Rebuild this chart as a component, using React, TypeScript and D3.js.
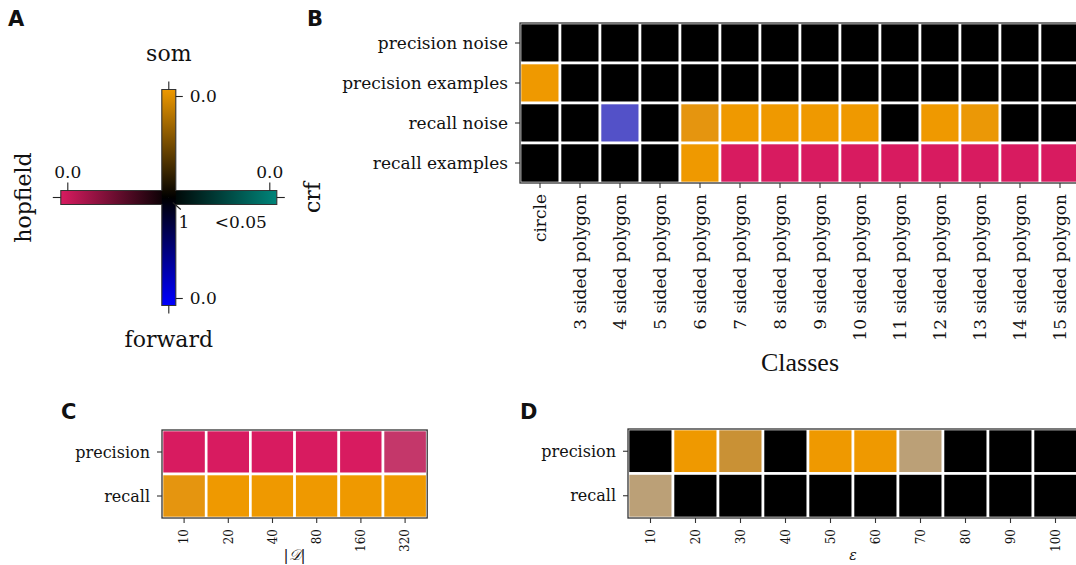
import React from "react";
import * as d3 from "d3";

const width = 1076;
const height = 565;
const serif = "DejaVu Serif";

// panel B
const classes = [
  "circle",
  "3 sided polygon",
  "4 sided polygon",
  "5 sided polygon",
  "6 sided polygon",
  "7 sided polygon",
  "8 sided polygon",
  "9 sided polygon",
  "10 sided polygon",
  "11 sided polygon",
  "12 sided polygon",
  "13 sided polygon",
  "14 sided polygon",
  "15 sided polygon",
];
const bRows = ["precision noise", "precision examples", "recall noise", "recall examples"];
const bCells = [
  "KKKKKKKKKKKKKK",
  "OKKKKKKKKKKKKK",
  "KKBKoOOOOKOqKK",
  "KKKKOPPPPPPPPP",
];

// panel C
const sizes = ["10", "20", "40", "80", "160", "320"];
const cRows = ["precision", "recall"];
const cCells = ["PPPPPp", "oOOOOO"];

// panel D
const epsilons = ["10", "20", "30", "40", "50", "60", "70", "80", "90", "100"];
const dRows = ["precision", "recall"];
const dCells = ["KOtKOOTKKK", "TKKKKKKKKK"];

// cell colours (mix of the four model colours)
const palette: Record<string, string> = {
  K: "#000000",
  O: "#ef9900",
  o: "#e5950f",
  q: "#eb9806",
  P: "#d81b60",
  p: "#c4376a",
  B: "#5351c8",
  T: "#bba077",
  t: "#c99135",
};

// panel A legend arms
const arms = [
  { name: "som", color: "#ee9900", dir: "up" },
  { name: "forward", color: "#0000ff", dir: "down" },
  { name: "hopfield", color: "#d81b60", dir: "left" },
  { name: "crf", color: "#00857a", dir: "right" },
];

function Heatmap({ x0, y0, cw, ch, rows, cols, cells, rowFont, colFont, title, titleY, titleFont, titleFamily, clipId }) {
  const x = d3.scaleBand().domain(cols).range([x0, x0 + cw * cols.length]);
  const y = d3.scaleBand().domain(rows).range([y0, y0 + ch * rows.length]);
  const x1 = x0 + cw * cols.length;
  const y1 = y0 + ch * rows.length;
  const tick = 5;
  return (
    <g>
      <defs>
        <clipPath id={clipId}>
          <rect x={x0} y={y0} width={x1 - x0} height={y1 - y0} />
        </clipPath>
      </defs>
      <g clipPath={`url(#${clipId})`}>
        {rows.map((r, i) =>
          cols.map((c, j) => (
            <rect
              key={r + c}
              x={x(c)}
              y={y(r)}
              width={x.bandwidth()}
              height={y.bandwidth()}
              fill={palette[cells[i][j]]}
              stroke="#fff"
              strokeWidth={2.6}
            />
          ))
        )}
      </g>
      <rect x={x0} y={y0} width={x1 - x0} height={y1 - y0} fill="none" stroke="#333" strokeWidth={1.3} />
      {rows.map((r) => {
        const cy = y(r) + y.bandwidth() / 2;
        return (
          <g key={r}>
            <line x1={x0 - tick} x2={x0} y1={cy} y2={cy} stroke="#333" strokeWidth={1.1} />
            <text x={x0 - 12} y={cy} dy="0.35em" textAnchor="end" fontFamily={serif} fontSize={rowFont} fill="#111">
              {r}
            </text>
          </g>
        );
      })}
      {cols.map((c) => {
        const cx = x(c) + x.bandwidth() / 2;
        return (
          <g key={c}>
            <line x1={cx} x2={cx} y1={y1} y2={y1 + tick} stroke="#333" strokeWidth={1.1} />
            <text
              transform={`translate(${cx},${y1 + tick + 6}) rotate(-90)`}
              dy="0.35em"
              textAnchor="end"
              fontFamily={serif}
              fontSize={colFont}
              fill="#111"
            >
              {c}
            </text>
          </g>
        );
      })}
      <text x={(x0 + x1) / 2} y={titleY} textAnchor="middle" fontFamily={titleFamily} fontSize={titleFont} fill="#111">
        {title}
      </text>
    </g>
  );
}

function Legend() {
  const cx = 168.8;
  const cy = 197.5;
  const len = 108;
  const half = 7;
  const pos = d3.scaleLinear().domain([0, 1]).range([len - 7, 0]);
  const tickStroke = { stroke: "#222", strokeWidth: 1.1 };
  const outline = [
    [cx - half, cy - len],
    [cx + half, cy - len],
    [cx + half, cy - half],
    [cx + len, cy - half],
    [cx + len, cy + half],
    [cx + half, cy + half],
    [cx + half, cy + len],
    [cx - half, cy + len],
    [cx - half, cy + half],
    [cx - len, cy + half],
    [cx - len, cy - half],
    [cx - half, cy - half],
  ];
  const line = d3.line();
  return (
    <g>
      <defs>
        {arms.map((a) => {
          const g =
            a.dir === "up"
              ? { x1: 0, y1: 0, x2: 0, y2: 1 }
              : a.dir === "down"
              ? { x1: 0, y1: 1, x2: 0, y2: 0 }
              : a.dir === "left"
              ? { x1: 0, y1: 0, x2: 1, y2: 0 }
              : { x1: 1, y1: 0, x2: 0, y2: 0 };
          return (
            <linearGradient key={a.name} id={`grad-${a.name}`} {...g}>
              <stop offset="0" stopColor={a.color} />
              <stop offset="1" stopColor="#000" />
            </linearGradient>
          );
        })}
      </defs>
      <rect x={cx - len} y={cy - half} width={len} height={half * 2} fill="url(#grad-hopfield)" />
      <rect x={cx} y={cy - half} width={len} height={half * 2} fill="url(#grad-crf)" />
      <rect x={cx - half} y={cy - len} width={half * 2} height={len} fill="url(#grad-som)" />
      <rect x={cx - half} y={cy} width={half * 2} height={len} fill="url(#grad-forward)" />
      <path d={line(outline) + "Z"} fill="none" stroke="#333" strokeWidth={1.1} />

      {/* end stubs */}
      <line x1={cx} x2={cx} y1={cy - len - 8} y2={cy - len} {...tickStroke} />
      <line x1={cx} x2={cx} y1={cy + len} y2={cy + len + 8} {...tickStroke} />
      <line x1={cx - len - 8} x2={cx - len} y1={cy} y2={cy} {...tickStroke} />
      <line x1={cx + len} x2={cx + len + 8} y1={cy} y2={cy} {...tickStroke} />

      {/* 0.0 ticks */}
      <line x1={cx + half} x2={cx + half + 7} y1={cy - pos(0)} y2={cy - pos(0)} {...tickStroke} />
      <text x={cx + half + 14} y={cy - pos(0)} dy="0.35em" fontFamily={serif} fontSize={17} fill="#111">0.0</text>
      <line x1={cx + half} x2={cx + half + 7} y1={cy + pos(0)} y2={cy + pos(0)} {...tickStroke} />
      <text x={cx + half + 14} y={cy + pos(0)} dy="0.35em" fontFamily={serif} fontSize={17} fill="#111">0.0</text>
      <line x1={cx - pos(0)} x2={cx - pos(0)} y1={cy - half - 8} y2={cy - half} {...tickStroke} />
      <text x={cx - pos(0)} y={cy - half - 13} textAnchor="middle" fontFamily={serif} fontSize={17} fill="#111">0.0</text>
      <line x1={cx + pos(0)} x2={cx + pos(0)} y1={cy - half - 8} y2={cy - half} {...tickStroke} />
      <text x={cx + pos(0)} y={cy - half - 13} textAnchor="middle" fontFamily={serif} fontSize={17} fill="#111">0.0</text>

      {/* centre */}
      <line x1={cx + 4} x2={cx + 12} y1={cy + 5} y2={cy + 12} {...tickStroke} />
      <text x={cx + 15} y={cy + 30} textAnchor="middle" fontFamily={serif} fontSize={17} fill="#111">1</text>
      <text x={cx + 72} y={cy + 30} textAnchor="middle" fontFamily={serif} fontSize={17} fill="#111">&lt;0.05</text>

      {/* arm names */}
      <text x={cx} y={61} textAnchor="middle" fontFamily={serif} fontSize={22} fill="#111">som</text>
      <text x={cx} y={347} textAnchor="middle" fontFamily={serif} fontSize={22} fill="#111">forward</text>
      <text transform={`translate(31,${cy}) rotate(-90)`} textAnchor="middle" fontFamily={serif} fontSize={22} fill="#111">hopfield</text>
      <text transform={`translate(320,${cy}) rotate(-90)`} textAnchor="middle" fontFamily={serif} fontSize={22} fill="#111">crf</text>
    </g>
  );
}

const panelLabel = { fontFamily: "DejaVu Sans", fontWeight: "bold", fontSize: 21, fill: "#111" };

export default function App() {
  return (
    <svg width={width} height={height} style={{ position: "absolute", left: 0, top: 0, background: "#fff" }}>
      <rect width={width} height={height} fill="#fff" />
      <text x={8} y={26} {...panelLabel}>A</text>
      <text x={307} y={26} {...panelLabel}>B</text>
      <text x={61} y={419} {...panelLabel}>C</text>
      <text x={520} y={419} {...panelLabel}>D</text>

      <Legend />

      <Heatmap
        clipId="clipB"
        x0={520}
        y0={23}
        cw={40}
        ch={40}
        rows={bRows}
        cols={classes}
        cells={bCells}
        rowFont={17}
        colFont={17}
        title="Classes"
        titleY={371}
        titleFont={26}
        titleFamily="Liberation Serif"
      />
      <Heatmap
        clipId="clipC"
        x0={162}
        y0={430}
        cw={44.2}
        ch={44}
        rows={cRows}
        cols={sizes}
        cells={cCells}
        rowFont={16}
        colFont={12}
        title={
          <>
            |<tspan fontStyle="italic">𝒟</tspan>|
          </>
        }
        titleY={560}
        titleFont={15}
        titleFamily={serif}
      />
      <Heatmap
        clipId="clipD"
        x0={628}
        y0={429}
        cw={45}
        ch={44.5}
        rows={dRows}
        cols={epsilons}
        cells={dCells}
        rowFont={16}
        colFont={12}
        title={<tspan fontStyle="italic">ε</tspan>}
        titleY={560}
        titleFont={14}
        titleFamily={serif}
      />
    </svg>
  );
}
